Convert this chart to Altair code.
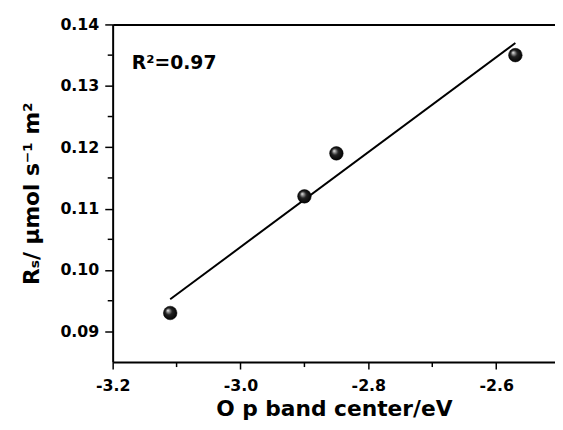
import altair as alt
import pandas as pd

# data
band_center = [-3.11, -2.90, -2.85, -2.57]
rs_values = [0.093, 0.112, 0.119, 0.135]
x_major = [-3.2, -3.0, -2.8, -2.6]
x_minor = [-3.1, -2.9, -2.7]
y_major = [0.09, 0.10, 0.11, 0.12, 0.13, 0.14]
y_minor = [0.095, 0.105, 0.115, 0.125, 0.135]
ann_text = ["R\u00b2=0.97"]
ann_x = [-3.170]
ann_y = [0.1327]

df = pd.DataFrame({"x": band_center, "y": rs_values})
ann = pd.DataFrame({"x": ann_x, "y": ann_y, "t": ann_text})
xmin_df = pd.DataFrame({"x": x_minor})
ymin_df = pd.DataFrame({"y": y_minor})

FONT = "DejaVu Sans"
x_dom = [-3.2, -2.508]
y_dom = [0.085, 0.14]
H = 342

xs = alt.Scale(domain=x_dom, nice=False, zero=False)
ys = alt.Scale(domain=y_dom, nice=False, zero=False)

x_axis = alt.Axis(
    values=x_major,
    labelExpr="'-' + format(abs(datum.value), '.1f')",
    tickSize=7,
    title="O p band center/eV",
    titleFont=FONT, titleFontSize=22, titleFontWeight="bold", titleColor="black",
    labelFont=FONT, labelFontSize=16, labelFontWeight="bold", labelColor="black",
    domainColor="black", domainWidth=2, tickColor="black", tickWidth=1.5,
    grid=False, labelPadding=9, titlePadding=5, labelFlush=False, labelOverlap=False,
)
y_axis = alt.Axis(
    values=y_major,
    format=".2f",
    tickSize=8,
    title="R\u209b/ \u03bcmol s\u207b\u00b9 m\u00b2",
    titleFont=FONT, titleFontSize=22, titleFontWeight="bold", titleColor="black",
    labelFont=FONT, labelFontSize=16, labelFontWeight="bold", labelColor="black",
    domainColor="black", domainWidth=2, tickColor="black", tickWidth=1.5,
    grid=False, labelPadding=6, titlePadding=17, labelFlush=False, labelOverlap=False,
)

sphere = alt.RadialGradient(
    gradient="radial",
    x1=0.32, y1=0.3, r1=0.0,
    x2=0.5, y2=0.5, r2=0.55,
    stops=[
        alt.GradientStop(offset=0.0, color="#ffffff"),
        alt.GradientStop(offset=0.18, color="#9a9a9a"),
        alt.GradientStop(offset=0.45, color="#222222"),
        alt.GradientStop(offset=1.0, color="#000000"),
    ],
)

base = alt.Chart(df)

fit = base.transform_regression("x", "y").mark_line(color="black", strokeWidth=2).encode(
    x=alt.X("x:Q", scale=xs, axis=x_axis),
    y=alt.Y("y:Q", scale=ys, axis=y_axis),
)

pts = base.mark_circle(size=190, opacity=1, fill=sphere, stroke="#000000", strokeWidth=0.5).encode(
    x=alt.X("x:Q", scale=xs, axis=None),
    y=alt.Y("y:Q", scale=ys),
)

txt = alt.Chart(ann).mark_text(
    font=FONT, fontSize=19, fontWeight="bold", color="black", align="left", baseline="alphabetic"
).encode(
    x=alt.X("x:Q", scale=xs, axis=None),
    y=alt.Y("y:Q", scale=ys),
    text="t:N",
)

# minor ticks (outside the frame, like the reference)
xminor = alt.Chart(xmin_df).mark_rule(color="black", strokeWidth=1.5).encode(
    x=alt.X("x:Q", scale=xs, axis=None),
    y=alt.value(H),
    y2=alt.value(H + 5),
)
yminor = alt.Chart(ymin_df).mark_rule(color="black", strokeWidth=1.5).encode(
    y=alt.Y("y:Q", scale=ys),
    x=alt.value(-5),
    x2=alt.value(0),
)

top = alt.Chart(ann).mark_point(opacity=0).encode(
    x=alt.X("x:Q", scale=xs, axis=alt.Axis(orient="top", labels=False, ticks=False, title=None,
                                              domainColor="black", domainWidth=2, grid=False)),
)

chart = alt.layer(fit, pts, txt, xminor, yminor, top).resolve_axis(x="independent").properties(
    width=448,
    height=H,
    autosize=alt.AutoSizeParams(type="none"),
    padding={"left": 106, "top": 14, "right": 0, "bottom": 58},
).configure_view(stroke=None).configure(background="white")

chart.save("out.html", embed_options={"renderer": "svg", "actions": False})
